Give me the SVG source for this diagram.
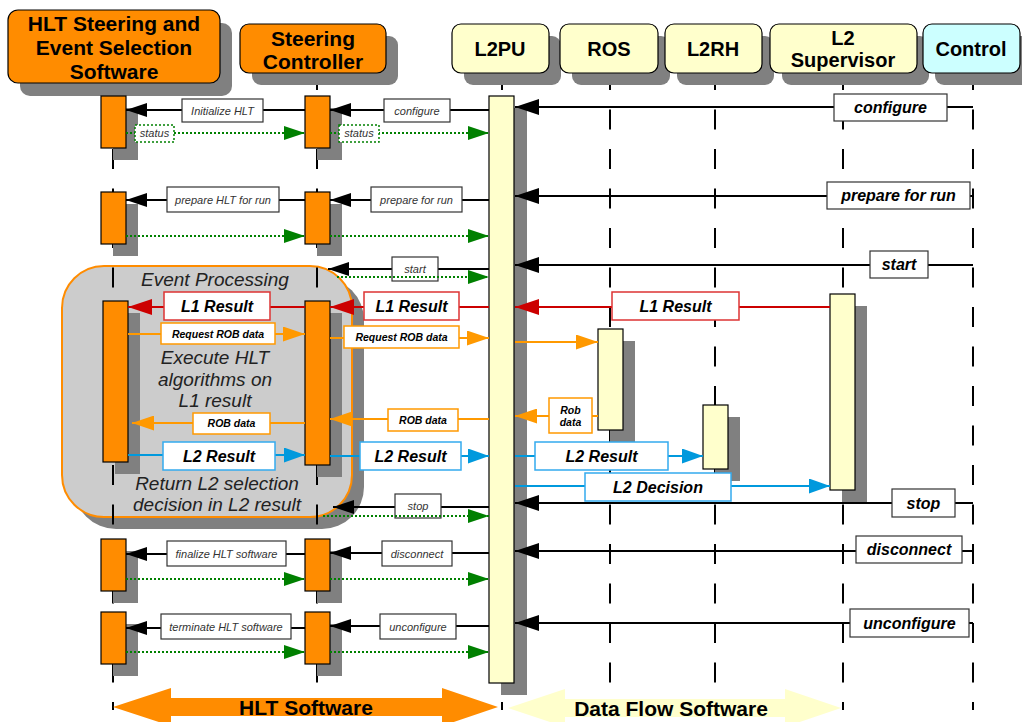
<svg xmlns="http://www.w3.org/2000/svg" width="1022" height="722" viewBox="0 0 1022 722">
<style>
.sh{fill:#808080}
.or{fill:#ff8c00;stroke:#000;stroke-width:1.2}
.ye{fill:#ffffcc;stroke:#000;stroke-width:1.2}
.cy{fill:#ccffff;stroke:#000;stroke-width:1.2}
.ll{stroke:#000;stroke-width:2;stroke-dasharray:20 19.5;fill:none}
.ht{font-family:"Liberation Sans",Arial,sans-serif;font-weight:bold;font-size:21px;text-anchor:middle;fill:#000}
.hs{font-family:"Liberation Sans",Arial,sans-serif;font-weight:bold;font-size:20px;text-anchor:middle;fill:#000}
.mk{stroke:#000;stroke-width:2;fill:none}
.mg{stroke:#008000;stroke-width:2;stroke-dasharray:2 2;fill:none}
.mr{stroke:#cc0000;stroke-width:2;fill:none}
.mo{stroke:#ff9900;stroke-width:2;fill:none}
.mb{stroke:#0099dd;stroke-width:2;fill:none}
.lk{fill:#fff;stroke:#333;stroke-width:1.2}
.lg{fill:#fff;stroke:#008000;stroke-width:1.5;stroke-dasharray:2 2}
.lr{fill:#fff;stroke:#dd3333;stroke-width:1.5}
.lo{fill:#fff;stroke:#ff9900;stroke-width:1.5}
.lb{fill:#fff;stroke:#33aaee;stroke-width:1.5}
.ts{font-family:"Liberation Sans",Arial,sans-serif;font-style:italic;font-size:11px;text-anchor:middle;fill:#333}
.tb{font-family:"Liberation Sans",Arial,sans-serif;font-style:italic;font-weight:bold;font-size:16px;text-anchor:middle;fill:#000}
.tm{font-family:"Liberation Sans",Arial,sans-serif;font-style:italic;font-weight:bold;font-size:10.5px;text-anchor:middle;fill:#000}
.te{font-family:"Liberation Sans",Arial,sans-serif;font-style:italic;font-size:19px;text-anchor:middle;fill:#222}
.tf{font-family:"Liberation Sans",Arial,sans-serif;font-weight:bold;font-size:21px;text-anchor:middle;fill:#000}
</style>
<defs>
<marker id="aK" markerUnits="userSpaceOnUse" markerWidth="21" markerHeight="14" refX="21" refY="7" orient="auto"><path d="M0,0 L21,7 L0,14 z" fill="#000"/></marker>
<marker id="aKL" markerUnits="userSpaceOnUse" markerWidth="24" markerHeight="16" refX="24" refY="8" orient="auto"><path d="M0,0 L24,8 L0,16 z" fill="#000"/></marker>
<marker id="aG" markerUnits="userSpaceOnUse" markerWidth="21" markerHeight="14" refX="21" refY="7" orient="auto"><path d="M0,0 L21,7 L0,14 z" fill="#008000"/></marker>
<marker id="aR" markerUnits="userSpaceOnUse" markerWidth="24" markerHeight="16" refX="24" refY="8" orient="auto"><path d="M0,0 L24,8 L0,16 z" fill="#cc0000"/></marker>
<marker id="aO" markerUnits="userSpaceOnUse" markerWidth="22" markerHeight="15" refX="22" refY="7.5" orient="auto"><path d="M0,0 L22,7.5 L0,15 z" fill="#ff9900"/></marker>
<marker id="aB" markerUnits="userSpaceOnUse" markerWidth="21" markerHeight="15" refX="21" refY="7.5" orient="auto"><path d="M0,0 L21,7.5 L0,15 z" fill="#0099dd"/></marker>
</defs>
<rect width="1022" height="722" fill="#fff"/>

<g id="event-processing">
<rect class="sh" x="74" y="278" width="290" height="251" rx="42"/>
<rect x="62" y="266" width="290" height="251" rx="42" fill="#cccccc" stroke="#ff8c00" stroke-width="2"/>
</g>

<g id="node-hlt">
<line class="ll" x1="113" y1="70" x2="113" y2="710"/>
<rect class="sh" x="20" y="23" width="212" height="73" rx="10"/>
<rect class="or" x="8" y="10" width="212" height="73" rx="10"/>
<text class="ht" x="114" y="31">HLT Steering and</text>
<text class="ht" x="114" y="55">Event Selection</text>
<text class="ht" x="114" y="79">Software</text>
<rect class="sh" x="113" y="108" width="25" height="52"/>
<rect class="or" x="101" y="96" width="25" height="52"/>
<rect class="sh" x="113" y="204" width="25" height="52"/>
<rect class="or" x="101" y="192" width="25" height="52"/>
<rect class="sh" x="115" y="313" width="25" height="161"/>
<rect class="or" x="103" y="301" width="25" height="161"/>
<rect class="sh" x="113" y="551" width="25" height="52"/>
<rect class="or" x="101" y="539" width="25" height="52"/>
<rect class="sh" x="113" y="624" width="25" height="52"/>
<rect class="or" x="101" y="612" width="25" height="52"/>
</g>

<g id="node-sc">
<line class="ll" x1="317" y1="70" x2="317" y2="710"/>
<rect class="sh" x="252" y="36" width="146" height="49" rx="9"/>
<rect class="or" x="240" y="24" width="146" height="49" rx="9"/>
<text class="ht" x="313" y="46">Steering</text>
<text class="ht" x="313" y="69">Controller</text>
<rect class="sh" x="317" y="108" width="25" height="52"/>
<rect class="or" x="305" y="96" width="25" height="52"/>
<rect class="sh" x="317" y="204" width="25" height="52"/>
<rect class="or" x="305" y="192" width="25" height="52"/>
<rect class="sh" x="317" y="313" width="25" height="164"/>
<rect class="or" x="305" y="301" width="25" height="164"/>
<rect class="sh" x="317" y="551" width="25" height="52"/>
<rect class="or" x="305" y="539" width="25" height="52"/>
<rect class="sh" x="317" y="624" width="25" height="52"/>
<rect class="or" x="305" y="612" width="25" height="52"/>
</g>

<g id="node-l2pu">
<line class="ll" x1="502" y1="70" x2="502" y2="710"/>
<rect class="sh" x="464" y="36" width="97" height="49" rx="9"/>
<rect class="ye" x="452" y="24" width="97" height="49" rx="9"/>
<text class="hs" x="500" y="56">L2PU</text>
<rect class="sh" x="501" y="108" width="26" height="587"/>
<rect class="ye" x="489" y="96" width="25" height="587"/>
</g>

<g id="node-ros">
<line class="ll" x1="610" y1="70" x2="610" y2="710"/>
<rect class="sh" x="572" y="36" width="98" height="49" rx="9"/>
<rect class="ye" x="560" y="24" width="98" height="49" rx="9"/>
<text class="hs" x="609" y="56">ROS</text>
<rect class="sh" x="610" y="341" width="25" height="101"/>
<rect class="ye" x="598" y="329" width="25" height="101"/>
</g>

<g id="node-l2rh">
<line class="ll" x1="715" y1="70" x2="715" y2="710"/>
<rect class="sh" x="677" y="36" width="97" height="49" rx="9"/>
<rect class="ye" x="665" y="24" width="97" height="49" rx="9"/>
<text class="hs" x="713" y="56">L2RH</text>
<rect class="sh" x="715" y="417" width="25" height="64"/>
<rect class="ye" x="703" y="405" width="25" height="64"/>
</g>

<g id="node-l2sv">
<line class="ll" x1="843" y1="70" x2="843" y2="710"/>
<rect class="sh" x="782" y="36" width="147" height="49" rx="9"/>
<rect class="ye" x="770" y="24" width="147" height="49" rx="9"/>
<text class="hs" x="843" y="45">L2</text>
<text class="hs" x="843" y="67">Supervisor</text>
<rect class="sh" x="842" y="306" width="25" height="197"/>
<rect class="ye" x="830" y="294" width="25" height="196"/>
</g>

<g id="node-control">
<line class="ll" x1="973" y1="70" x2="973" y2="710"/>
<rect class="sh" x="935" y="36" width="97" height="49" rx="9"/>
<rect class="cy" x="923" y="24" width="97" height="49" rx="9"/>
<text class="hs" x="971" y="56">Control</text>
</g>

<g id="event-texts">
<text class="te" x="215" y="286">Event Processing</text>
<text class="te" x="215" y="364">Execute HLT</text>
<text class="te" x="215" y="386">algorithms on</text>
<text class="te" x="215" y="407">L1 result</text>
<text class="te" x="217" y="490">Return L2 selection</text>
<text class="te" x="217" y="511">decision in L2 result</text>
</g>

<g id="connectors">
<!-- row 1 configure -->
<line class="mk" x1="305" y1="110" x2="126" y2="110" marker-end="url(#aK)"/>
<rect class="lk" x="182" y="99" width="81" height="23"/><text class="ts" x="222.5" y="114.5">Initialize HLT</text>
<line class="mk" x1="489" y1="110" x2="330" y2="110" marker-end="url(#aK)"/>
<rect class="lk" x="384" y="99" width="66" height="23"/><text class="ts" x="417" y="114.5">configure</text>
<line class="mk" x1="973" y1="107" x2="515" y2="107" marker-end="url(#aKL)"/>
<rect class="lk" x="834" y="94" width="113" height="27"/><text class="tb" x="890.5" y="113">configure</text>
<line class="mg" x1="126" y1="133" x2="305" y2="133" marker-end="url(#aG)"/>
<rect class="lg" x="135" y="125" width="39" height="17"/><text class="ts" x="154.5" y="137">status</text>
<line class="mg" x1="330" y1="133" x2="489" y2="133" marker-end="url(#aG)"/>
<rect class="lg" x="339" y="125" width="40" height="17"/><text class="ts" x="359" y="137">status</text>
<!-- row 2 prepare -->
<line class="mk" x1="305" y1="200" x2="126" y2="200" marker-end="url(#aK)"/>
<rect class="lk" x="167" y="187" width="112" height="25"/><text class="ts" x="223" y="203.5">prepare HLT for run</text>
<line class="mk" x1="489" y1="200" x2="330" y2="200" marker-end="url(#aK)"/>
<rect class="lk" x="371" y="187" width="91" height="25"/><text class="ts" x="416.5" y="203.5">prepare for run</text>
<line class="mk" x1="973" y1="196" x2="515" y2="196" marker-end="url(#aKL)"/>
<rect class="lk" x="827" y="182" width="143" height="27"/><text class="tb" x="898.5" y="201">prepare for run</text>
<line class="mg" x1="126" y1="236" x2="305" y2="236" marker-end="url(#aG)"/>
<line class="mg" x1="330" y1="236" x2="489" y2="236" marker-end="url(#aG)"/>
<!-- row 3 start -->
<line class="mk" x1="489" y1="269" x2="328" y2="269" marker-end="url(#aK)"/>
<rect class="lk" x="392" y="257" width="46" height="24"/><text class="ts" x="415" y="273">start</text>
<line class="mg" x1="337" y1="277" x2="489" y2="277" marker-end="url(#aG)"/>
<line class="mk" x1="973" y1="265" x2="515" y2="265" marker-end="url(#aKL)"/>
<rect class="lk" x="870" y="251" width="58" height="27"/><text class="tb" x="899" y="270">start</text>
<!-- row 4 L1 Result -->
<line class="mr" x1="830" y1="307" x2="515" y2="307" marker-end="url(#aR)"/>
<rect class="lr" x="612" y="292" width="127" height="28"/><text class="tb" x="675.5" y="312">L1 Result</text>
<line class="mr" x1="489" y1="307" x2="330" y2="307" marker-end="url(#aR)"/>
<rect class="lr" x="364" y="292" width="95" height="28"/><text class="tb" x="411.5" y="312">L1 Result</text>
<line class="mr" x1="305" y1="307" x2="128" y2="307" marker-end="url(#aR)"/>
<rect class="lr" x="164" y="292" width="106" height="28"/><text class="tb" x="217" y="312">L1 Result</text>
<!-- row 5 Request ROB data -->
<line class="mo" x1="128" y1="334" x2="305" y2="334" marker-end="url(#aO)"/>
<rect class="lo" x="161" y="323" width="114" height="21"/><text class="tm" x="218" y="337.5">Request ROB data</text>
<line class="mo" x1="330" y1="338" x2="489" y2="338" marker-end="url(#aO)"/>
<rect class="lo" x="344" y="326" width="115" height="22"/><text class="tm" x="401.5" y="341">Request ROB data</text>
<line class="mo" x1="515" y1="342" x2="598" y2="342" marker-end="url(#aO)"/>
<!-- row 6 ROB data -->
<line class="mo" x1="598" y1="416" x2="515" y2="416" marker-end="url(#aO)"/>
<rect class="lo" x="549" y="398" width="43" height="35"/><text class="tm" x="570.5" y="414">Rob</text><text class="tm" x="570.5" y="426">data</text>
<line class="mo" x1="489" y1="419" x2="330" y2="419" marker-end="url(#aO)"/>
<rect class="lo" x="388" y="409" width="70" height="22"/><text class="tm" x="423" y="423.5">ROB data</text>
<line class="mo" x1="305" y1="423" x2="132" y2="423" marker-end="url(#aO)"/>
<rect class="lo" x="193" y="413" width="77" height="21"/><text class="tm" x="231.5" y="427">ROB data</text>
<!-- row 7 L2 Result -->
<line class="mb" x1="128" y1="455" x2="305" y2="455" marker-end="url(#aB)"/>
<rect class="lb" x="163" y="442" width="112" height="28"/><text class="tb" x="219" y="462">L2 Result</text>
<line class="mb" x1="330" y1="456" x2="489" y2="456" marker-end="url(#aB)"/>
<rect class="lb" x="360" y="442" width="101" height="28"/><text class="tb" x="410.5" y="462">L2 Result</text>
<line class="mb" x1="515" y1="456" x2="703" y2="456" marker-end="url(#aB)"/>
<rect class="lb" x="535" y="442" width="133" height="28"/><text class="tb" x="601.5" y="462">L2 Result</text>
<!-- row 8 L2 Decision -->
<line class="mb" x1="515" y1="486" x2="830" y2="486" marker-end="url(#aB)"/>
<rect class="lb" x="585" y="473" width="146" height="28"/><text class="tb" x="658" y="493">L2 Decision</text>
<!-- row 9 stop -->
<line class="mk" x1="973" y1="503" x2="515" y2="503" marker-end="url(#aKL)"/>
<rect class="lk" x="892" y="489" width="63" height="28"/><text class="tb" x="923.5" y="509">stop</text>
<line class="mk" x1="489" y1="507" x2="333" y2="507" marker-end="url(#aK)"/>
<rect class="lk" x="395" y="494" width="46" height="24"/><text class="ts" x="418" y="510">stop</text>
<line class="mg" x1="323" y1="516" x2="489" y2="516" marker-end="url(#aG)"/>
<!-- row 10 disconnect -->
<line class="mk" x1="305" y1="554" x2="126" y2="554" marker-end="url(#aK)"/>
<rect class="lk" x="167" y="541" width="119" height="25"/><text class="ts" x="226.5" y="557.5">finalize HLT software</text>
<line class="mk" x1="489" y1="553" x2="330" y2="553" marker-end="url(#aK)"/>
<rect class="lk" x="382" y="541" width="70" height="25"/><text class="ts" x="417" y="557.5">disconnect</text>
<line class="mk" x1="973" y1="551" x2="515" y2="551" marker-end="url(#aKL)"/>
<rect class="lk" x="856" y="536" width="106" height="27"/><text class="tb" x="909" y="555">disconnect</text>
<line class="mg" x1="126" y1="579" x2="305" y2="579" marker-end="url(#aG)"/>
<line class="mg" x1="330" y1="579" x2="489" y2="579" marker-end="url(#aG)"/>
<!-- row 11 unconfigure -->
<line class="mk" x1="305" y1="628" x2="126" y2="628" marker-end="url(#aK)"/>
<rect class="lk" x="161" y="614" width="130" height="25"/><text class="ts" x="226" y="630.5">terminate HLT software</text>
<line class="mk" x1="489" y1="626" x2="330" y2="626" marker-end="url(#aK)"/>
<rect class="lk" x="380" y="614" width="76" height="25"/><text class="ts" x="418" y="630.5">unconfigure</text>
<line class="mk" x1="973" y1="623" x2="515" y2="623" marker-end="url(#aKL)"/>
<rect class="lk" x="850" y="609" width="119" height="28"/><text class="tb" x="909.5" y="629">unconfigure</text>
<line class="mg" x1="126" y1="652" x2="305" y2="652" marker-end="url(#aG)"/>
<line class="mg" x1="330" y1="652" x2="489" y2="652" marker-end="url(#aG)"/>
</g>

<g id="hlt-software">
<polygon points="113,707 171,688 171,698 442,698 442,688 498,707 442,726 442,716 171,716 171,726" fill="#ff8c00"/>
<text class="tf" x="306" y="715">HLT Software</text>
</g>
<g id="dataflow-software">
<polygon points="508,708 565,689 565,699 785,699 785,689 841,708 785,727 785,717 565,717 565,727" fill="#ffffcc"/>
<text class="tf" x="671" y="716">Data Flow Software</text>
</g>
</svg>
